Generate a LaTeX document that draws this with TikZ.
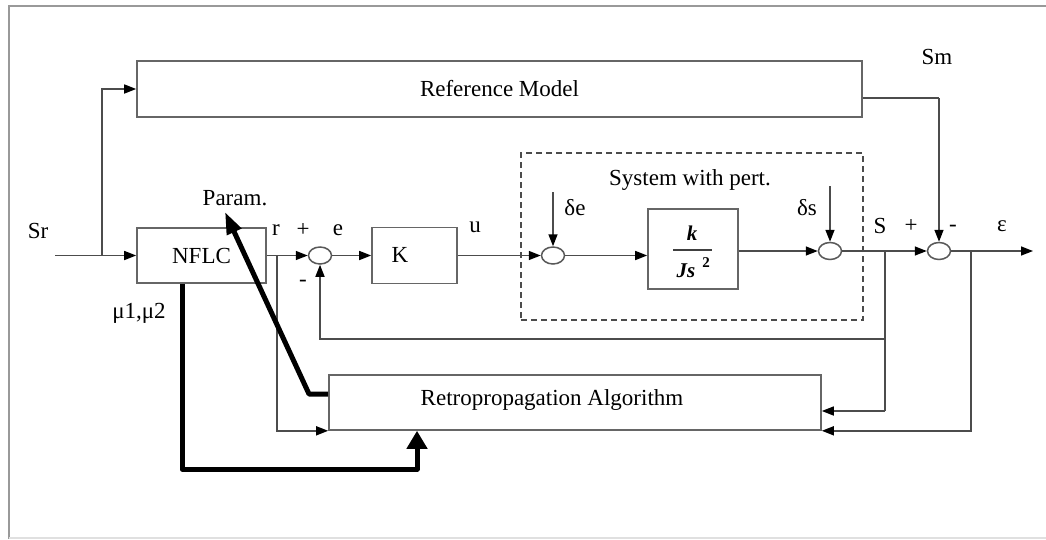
\documentclass[tikz,border=0pt]{standalone}
\usepackage{fontspec}
\setmainfont{Liberation Serif}
\usetikzlibrary{arrows.meta,shapes.geometric}
\begin{document}
\begin{tikzpicture}[x=1pt,y=-1pt,
  every node/.style={font=\fontsize{23}{27}\selectfont, text=black},
  blk/.style={draw=black!60,line width=1.6pt,fill=white,inner sep=0pt},
  sumj/.style={ellipse,draw=black!65,line width=1.5pt,minimum width=23pt,minimum height=17pt,inner sep=0pt,fill=white},
  sig/.style={draw=black!70,line width=1.5pt},
  arr/.style={sig,-{Triangle[length=12pt,width=9pt,color=black]}},
  heavy/.style={draw=black,line width=5pt,line join=round},
  lbl/.style={inner sep=0pt}
]
\useasboundingbox (0,0) rectangle (1046,539);
% frame
\draw[black!40,line width=2.5pt] (1046,6) -- (9,6) -- (9,539);
\draw[black!12,line width=1.5pt] (9,538) -- (1046,538);

% blocks
\node[blk,minimum width=725pt,minimum height=56pt] (rm) at (499.5,89) {Reference Model};
\node[draw=black!70,line width=1.4pt,dash pattern=on 6pt off 4pt,minimum width=342pt,minimum height=167pt,inner sep=0pt] (sys) at (692,236.5) {};
\node[lbl] (systxt) at (690,180) {System with pert.};
\node[blk,minimum width=129pt,minimum height=55pt] (nflc) at (201.5,255.5) {NFLC};
\node[blk,minimum width=85pt,minimum height=56pt] (k) at (414.5,255.5) {};
\node[lbl] (ktxt) at (400,255) {K};
\node[blk,minimum width=90pt,minimum height=80pt] (plant) at (693,249) {};
\node[lbl,font=\fontsize{21}{21}\selectfont\bfseries\itshape] (num) at (692,233) {k};
\draw[black!75,line width=2pt] (673,250) -- (712,250);
\node[lbl,font=\fontsize{21}{21}\selectfont\bfseries\itshape] (den) at (686,271) {Js};
\node[lbl,font=\fontsize{15}{15}\selectfont\bfseries] (pow) at (706,263) {2};
\node[blk,minimum width=492pt,minimum height=55pt] (retro) at (575,402.5) {};
\node[lbl] (retrotxt) at (552,400) {Retropropagation Algorithm};

% summing junctions
\node[sumj] (s1) at (320,255.5) {};
\node[sumj] (s2) at (553,255.5) {};
\node[sumj] (s3) at (830,251) {};
\node[sumj] (s4) at (939,251) {};

% coordinates
\coordinate (srin) at (55,255.5);
\coordinate (br1) at (102,255.5);
\coordinate (de) at (553,192);
\coordinate (ds) at (830,186);
\coordinate (smc) at (939,98);
\coordinate (out) at (1033,251);
\coordinate (sb) at (885,251);
\coordinate (fb) at (885,339);
\coordinate (sb2) at (885,411);
\coordinate (eb) at (971,251);
\coordinate (rb) at (277,255.5);
\coordinate (pk) at (309,394);
\coordinate (pt) at (225,212);
\coordinate (m1) at (182,469);
\coordinate (m2) at (417,469);

% signal lines
\draw[arr] (srin) -- (nflc);
\draw[arr] (br1) |- (rm.west);
\draw[arr] (nflc) -- (s1);
\draw[arr] (s1) -- (k);
\draw[arr] (k) -- (s2);
\draw[arr] (s2) -- (s2 -| plant.west);
\draw[arr] (plant.east |- s3) -- (s3);
\draw[arr] (s3) -- (s4);
\draw[arr] (s4) -- (out);
\draw[arr] (de) -- (s2);
\draw[arr] (ds) -- (s3);
\draw[sig] (rm.east |- smc) -- (smc);
\draw[arr] (smc) -- (s4);
\draw[sig] (sb) -- (sb2);
\draw[arr] (sb2) -- (sb2 -| retro.east);
\draw[arr] (fb) -| (s1);
\draw[arr] (eb) |- (retro.south east);
\draw[arr] (rb) |- (retro.south west);

% heavy lines
\draw[heavy,-{Triangle[length=22pt,width=15pt]}] (retro.west |- pk) -- (pk) -- (pt);
\draw[heavy,-{Triangle[length=18pt,width=20pt]}] (nflc.south -| m1) -- (m1) -- (m2) -- (retro.south -| m2);

% labels
\node[lbl] (lsr) at (38,231) {Sr};
\node[lbl] (lpar) at (235,198) {Param.};
\node[lbl] (lr) at (276,230) {r};
\node[lbl] (lp1) at (303,230) {+};
\node[lbl] (le) at (338,230) {e};
\node[lbl] (lm1) at (303,283) {-};
\node[lbl] (lu) at (475,227) {u};
\node[lbl] (lmu) at (139,313) {μ1,μ2};
\node[lbl] (lde) at (575,208) {δe};
\node[lbl] (lds) at (807,208) {δs};
\node[lbl] (ls) at (880,226) {S};
\node[lbl] (lp2) at (911,226) {+};
\node[lbl] (lm2) at (953,228) {-};
\node[lbl] (leps) at (1002,226) {ε};
\node[lbl] (lsm) at (937,57) {Sm};
\end{tikzpicture}
\end{document}
